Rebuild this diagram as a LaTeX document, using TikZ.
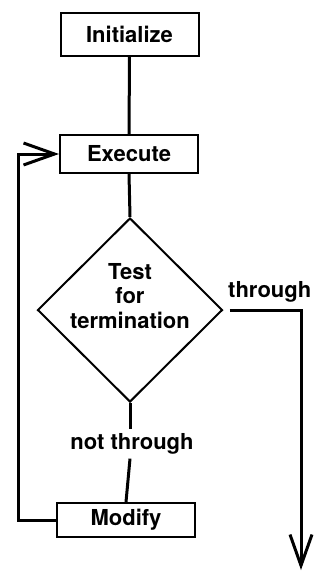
\documentclass[tikz,border=0pt]{standalone}
\usepackage{fontspec}
\setmainfont{TeX Gyre Heros}
\usetikzlibrary{shapes.geometric,arrows.meta}

\tikzset{
 stepbox/.style={draw,line width=2pt,inner sep=0pt,minimum width=138pt},
 flowline/.style={line width=3pt},
 txt/.style={font=\fontsize{22}{24.5}\selectfont\bfseries}
}

\begin{document}
\begin{tikzpicture}[x=1pt,y=-1pt,>={Straight Barb[length=31pt,width=22pt,line width=3pt]}]
 \useasboundingbox (0,0) rectangle (329,574);
 % boxes
 \node[stepbox,txt,minimum height=43pt] (init) at (129.5,34.5) {Initialize};
 \node[stepbox,txt,minimum height=38pt] (exec) at (129,154) {Execute};
 \node[stepbox,txt,minimum height=34pt] (modify) at (126,520) {Modify};
 % the test
 \node[draw,diamond,line width=2pt,inner sep=0pt,minimum width=185pt,minimum height=184pt,
  label={[txt,align=center,yshift=14pt]center:Test\\for\\termination}] (test) at (130,310) {};
 \node[txt,inner sep=4pt] (nthru) at (132,444) {not through};
 \node[txt,anchor=south west,inner sep=0pt] (thru) at (228,302) {through};
 \coordinate (out) at (301,570);
 % lines
 \draw[flowline] (init.south) -- (exec.north);
 \draw[flowline] (exec.south) -- (test.north);
 \draw[flowline] (test.south) -- ([xshift=-2pt]nthru.north);
 \draw[flowline] ([xshift=-2pt]nthru.south) -- (modify.north);
 \draw[flowline,->] (modify.west) -- (18,520) |- (exec.west);
 \draw[flowline,->] ([xshift=6pt]test.east) -| (out);
\end{tikzpicture}
\end{document}
